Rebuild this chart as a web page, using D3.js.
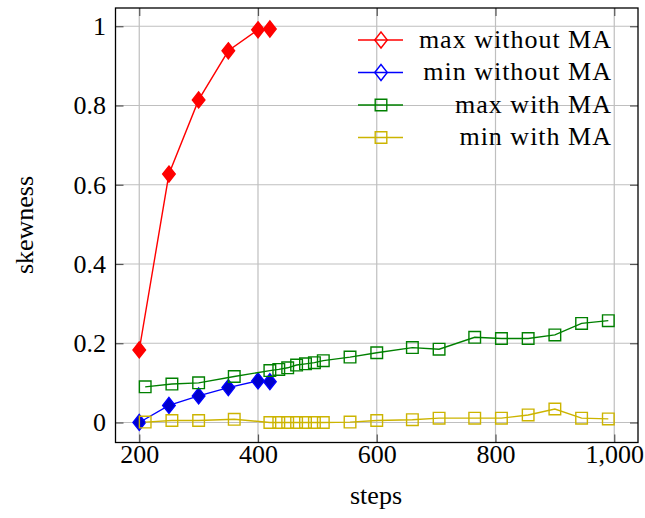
<!DOCTYPE html>
<meta charset="utf-8">
<style>
body { margin: 0; background: white; }
svg text, .tick text { font-family: "Liberation Serif", serif; fill: black; }
.tick text { font-size: 26px; }
</style>
<body>
<script src="https://d3js.org/d3.v7.min.js"></script>
<script>
// values
var noMaSteps = [200, 250, 300, 350, 400, 420];
var maxNoMa = [0.183, 0.627, 0.814, 0.938, 0.991, 0.993];
var minNoMa = [0, 0.043, 0.067, 0.088, 0.105, 0.103];

var maSteps = [210, 255, 300, 360, 420, 435, 450, 465, 480, 495, 510, 555, 600, 660, 705, 765, 810, 855, 900, 945, 990];
var maxMa = [0.090, 0.097, 0.100, 0.116, 0.131, 0.134, 0.138, 0.145, 0.148, 0.151, 0.156, 0.165, 0.176, 0.189, 0.185, 0.215, 0.212, 0.212, 0.221, 0.250, 0.257];
var minMa = [0.001, 0.005, 0.005, 0.008, 0, 0, 0, 0, 0, 0, 0, 0.001, 0.005, 0.007, 0.011, 0.011, 0.011, 0.019, 0.034, 0.011, 0.009];

var xTicks = [200, 400, 600, 800, 1000];
var yTicks = [0, 0.2, 0.4, 0.6, 0.8, 1];

var series = [
  {name: "max without MA", xs: noMaSteps, ys: maxNoMa, color: "#ff0000", fill: "#ff0000", mark: "diamond"},
  {name: "min without MA", xs: noMaSteps, ys: minNoMa, color: "#0000ff", fill: "#0000cc", mark: "diamond"},
  {name: "max with MA", xs: maSteps, ys: maxMa, color: "#008000", fill: "none", mark: "square"},
  {name: "min with MA", xs: maSteps, ys: minMa, color: "#ccb400", fill: "none", mark: "square"}
];

var W = 645, H = 518;
var pLeft = 115.5, pRight = 638, pTop = 8, pBottom = 442.5;

var svg = d3.select("body").append("svg")
  .attr("width", W)
  .attr("height", H);

var x = d3.scaleLinear().domain([160, 1040]).range([pLeft, pRight]);
var y = d3.scaleLinear().domain([-0.0505, 1.046]).range([pBottom, pTop]);

// grid
svg.append("g").selectAll("line").data(xTicks).enter().append("line")
  .attr("x1", d => x(d)).attr("x2", d => x(d))
  .attr("y1", pTop).attr("y2", pBottom)
  .attr("stroke", "#bfbfbf").attr("stroke-width", 1.2);
svg.append("g").selectAll("line").data(yTicks).enter().append("line")
  .attr("y1", d => y(d)).attr("y2", d => y(d))
  .attr("x1", pLeft).attr("x2", pRight)
  .attr("stroke", "#bfbfbf").attr("stroke-width", 1.2);

// axes with inward ticks on all four sides
var tl = 8;
svg.append("g").attr("transform", "translate(0," + pBottom + ")")
  .call(d3.axisBottom(x).tickValues(xTicks).tickFormat(d3.format(",")).tickSizeInner(-tl).tickSizeOuter(0).tickPadding(2))
  .call(g => g.select(".domain").remove());
svg.append("g").attr("transform", "translate(0," + pTop + ")")
  .call(d3.axisTop(x).tickValues(xTicks).tickFormat("").tickSizeInner(-tl).tickSizeOuter(0))
  .call(g => g.select(".domain").remove());
svg.append("g").attr("transform", "translate(" + pLeft + ",0)")
  .call(d3.axisLeft(y).tickValues(yTicks).tickFormat(d3.format("")).tickSizeInner(-tl).tickSizeOuter(0).tickPadding(9.5))
  .call(g => g.select(".domain").remove());
svg.append("g").attr("transform", "translate(" + pRight + ",0)")
  .call(d3.axisRight(y).tickValues(yTicks).tickFormat("").tickSizeInner(-tl).tickSizeOuter(0))
  .call(g => g.select(".domain").remove());
svg.selectAll(".tick line").attr("stroke", "#555").attr("stroke-width", 1.2);

svg.append("rect")
  .attr("x", pLeft).attr("y", pTop)
  .attr("width", pRight - pLeft).attr("height", pBottom - pTop)
  .attr("fill", "none").attr("stroke", "black").attr("stroke-width", 1.3);

// marker shapes
function markPath(kind) {
  if (kind == "diamond") return "M0,-8L6.3,0L0,8L-6.3,0Z";
  return "M-5.8,-5.8H5.8V5.8H-5.8Z";
}

var line = d3.line().x(d => x(d[0])).y(d => y(d[1]));

series.forEach(function(s) {
  var pts = s.xs.map((v, i) => [v, s.ys[i]]);
  var g = svg.append("g");
  g.append("path").datum(pts)
    .attr("d", line)
    .attr("fill", "none")
    .attr("stroke", s.color)
    .attr("stroke-width", 1.4);
  g.selectAll("path.mk").data(pts).enter().append("path")
    .attr("class", "mk")
    .attr("d", markPath(s.mark))
    .attr("transform", d => "translate(" + x(d[0]) + "," + y(d[1]) + ")")
    .attr("fill", s.fill)
    .attr("stroke", s.color)
    .attr("stroke-width", 1.4);
});

// legend (no box)
var legRows = [40, 72.5, 105, 137.5];
series.forEach(function(s, i) {
  var ly = legRows[i];
  svg.append("line")
    .attr("x1", 358).attr("x2", 403).attr("y1", ly).attr("y2", ly)
    .attr("stroke", s.color).attr("stroke-width", 1.4);
  svg.append("path")
    .attr("d", markPath(s.mark))
    .attr("transform", "translate(381," + ly + ")")
    .attr("fill", "none")
    .attr("stroke", s.color)
    .attr("stroke-width", 1.4);
  svg.append("text")
    .attr("x", 612).attr("y", ly + 7.5)
    .attr("text-anchor", "end")
    .style("font-size", "26px")
    .style("letter-spacing", "1px")
    .text(s.name);
});

// axis titles
svg.append("text")
  .attr("x", 376).attr("y", 504)
  .attr("text-anchor", "middle")
  .style("font-size", "26px")
  .text("steps");
svg.append("text")
  .attr("transform", "translate(33,225) rotate(-90)")
  .attr("text-anchor", "middle")
  .style("font-size", "26px")
  .text("skewness");
</script>
</body>
